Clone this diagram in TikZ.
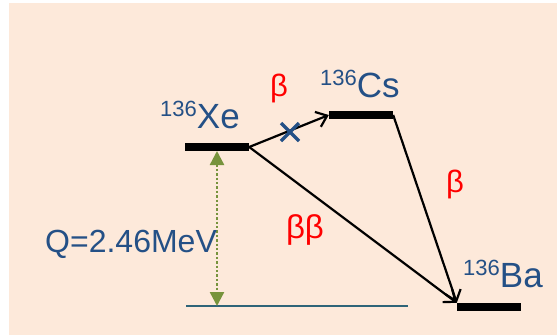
\documentclass[tikz,border=0pt]{standalone}
\usepackage{fontspec}
\setmainfont{Liberation Sans}
\usetikzlibrary{arrows.meta}
\definecolor{bgpeach}{RGB}{253,233,218}
\definecolor{txtblue}{RGB}{36,80,134}
\definecolor{qgreen}{RGB}{119,147,60}
\definecolor{gteal}{RGB}{46,100,120}
\newcommand{\isoname}[2]{{\fontsize{22}{22}\selectfont\raisebox{12pt}{#1}}{\fontsize{35}{35}\selectfont #2}}
\tikzset{
  level/.style={fill=black, inner sep=0pt, minimum width=64pt, minimum height=8pt},
  iso/.style={text=txtblue, anchor=base west, inner sep=0pt},
  decay/.style={draw=black, line width=2.2pt, -{Straight Barb[length=10pt, width=16pt, line width=2.2pt]}},
  blabel/.style={text=red, inner sep=0pt},
}
\begin{document}
\begin{tikzpicture}[x=1pt, y=-1pt]
\useasboundingbox (0,0) rectangle (557,335);
\fill[bgpeach] (9,3) rectangle (557,335);
% levels
\node[level] (xe) at (217,147) {};
\node[level] (cs) at (361,115) {};
\node[level] (ba) at (489,307) {};
\coordinate (g1) at (186,306);
\coordinate (g2) at (408,306);
\coordinate (qtop) at (217,151);
\coordinate (qbot) at (217,306);
\draw[gteal, line width=1.5pt] (g1) -- (g2);
% Q arrow
\draw[qgreen, line width=2.4pt, dash pattern=on 2.4pt off 2pt, {Triangle[length=14pt, width=14pt]}-{Triangle[length=14pt, width=14pt]}] (qtop) -- (qbot);
% decays
\draw[decay] (xe.east) -- (cs.west);
\draw[decay] (xe.east) -- (ba.north west);
\draw[decay] (cs.east) -- (ba.north west);
% cross
\coordinate (c1) at (281,123);
\coordinate (c2) at (299,141);
\coordinate (c3) at (281,141);
\coordinate (c4) at (299,123);
\draw[txtblue, line width=3.5pt] (c1) -- (c2) (c3) -- (c4);
% labels
\node[iso] (lxe) at (160,128) {\isoname{136}{Xe}};
\node[iso] (lcs) at (320,97) {\isoname{136}{Cs}};
\node[iso] (lba) at (463,287) {\isoname{136}{Ba}};
\node[iso] (lq) at (45,252) {\fontsize{32}{32}\selectfont Q=2.46MeV};
\node[blabel] (b1) at (279,88) {\fontsize{31}{31}\selectfont β};
\node[blabel] (b2) at (455,184) {\fontsize{31}{31}\selectfont β};
\node[blabel] (b3) at (305,230) {\fontsize{33}{33}\selectfont ββ};
\end{tikzpicture}
\end{document}
